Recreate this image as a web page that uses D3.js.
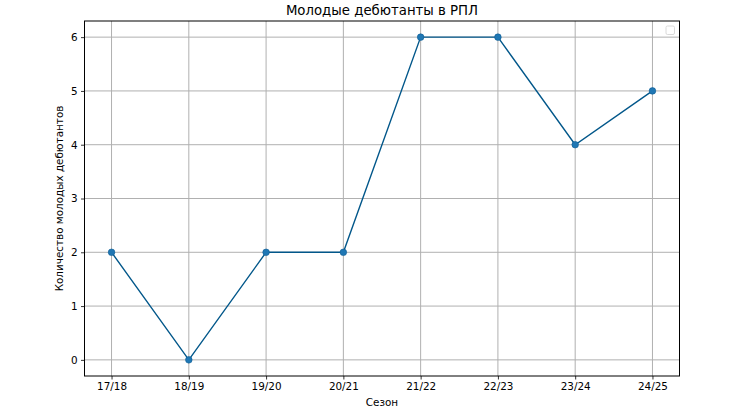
<!DOCTYPE html>
<html><head><meta charset="utf-8">
<script src="https://cdn.jsdelivr.net/npm/d3@7"></script>
<style>
body{margin:0;background:#fff;}
text{font-family:"DejaVu Sans",sans-serif;}
</style></head>
<body>
<svg id="c" width="730" height="412"></svg>
<script>
const seasons = ["17/18","18/19","19/20","20/21","21/22","22/23","23/24","24/25"];
const debutants = [2,0,2,2,6,6,4,5];
const yTicks = [0,1,2,3,4,5,6];
const titleText = "Молодые дебютанты в РПЛ";
const xLabel = "Сезон";
const yLabel = "Количество молодых дебютантов";

const svg = d3.select("#c");
const m = {l:84.5, r:679.5, t:21, b:376};
const x = d3.scaleLinear().domain([-0.35, seasons.length-1+0.35]).range([m.l, m.r]);
const y = d3.scaleLinear().domain([-0.3, 6.3]).range([m.b, m.t]);

// grid
const g = svg.append("g");
g.selectAll(".gx").data(seasons).join("line")
  .attr("x1",(d,i)=>x(i)).attr("x2",(d,i)=>x(i))
  .attr("y1",m.t).attr("y2",m.b)
  .attr("stroke","#b0b0b0").attr("stroke-width",1);
g.selectAll(".gy").data(yTicks).join("line")
  .attr("x1",m.l).attr("x2",m.r)
  .attr("y1",d=>y(d)).attr("y2",d=>y(d))
  .attr("stroke","#b0b0b0").attr("stroke-width",1);

// axes
const xAxis = d3.axisBottom(x).tickValues(d3.range(seasons.length)).tickFormat(i=>seasons[i]).tickSize(3.5).tickPadding(3.5);
const yAxis = d3.axisLeft(y).tickValues(yTicks).tickFormat(d3.format("d")).tickSize(3.5).tickPadding(3.5);
const ax = svg.append("g").attr("transform",`translate(0,${m.b})`).call(xAxis);
const ay = svg.append("g").attr("transform",`translate(${m.l},0)`).call(yAxis);
[ax,ay].forEach(a=>{
  a.select(".domain").remove();
  a.selectAll("text").attr("font-size","10.4px").attr("fill","#000").style("font-family","DejaVu Sans");
  a.selectAll("line").attr("stroke","#000").attr("stroke-width",0.8);
});

// line
svg.append("path").datum(debutants)
  .attr("d", d3.line().x((d,i)=>x(i)).y(d=>y(d)))
  .attr("fill","none").attr("stroke","#02578a").attr("stroke-width",1.4);
svg.selectAll(".pt").data(debutants).join("circle")
  .attr("cx",(d,i)=>x(i)).attr("cy",d=>y(d)).attr("r",3.3)
  .attr("fill","#1f77b4").attr("stroke","#0d5d94").attr("stroke-width",0.6);

// frame
svg.append("rect").attr("x",m.l).attr("y",m.t).attr("width",m.r-m.l).attr("height",m.b-m.t)
  .attr("fill","none").attr("stroke","#000").attr("stroke-width",1);

// empty legend
svg.append("rect").attr("x",666).attr("y",26).attr("width",8.5).attr("height",8.5).attr("rx",1.5)
  .attr("fill","#fff").attr("stroke","#d0d0d0").attr("stroke-width",0.8);

// labels
svg.append("text").attr("x",(m.l+m.r)/2).attr("y",15).attr("text-anchor","middle")
  .attr("font-size","13.3px").text(titleText);
svg.append("text").attr("x",(m.l+m.r)/2).attr("y",406).attr("text-anchor","middle")
  .attr("font-size","10.4px").text(xLabel);
svg.append("text").attr("transform",`translate(63,${(m.t+m.b)/2}) rotate(-90)`).attr("text-anchor","middle")
  .attr("font-size","10.4px").text(yLabel);
</script>
</body></html>
